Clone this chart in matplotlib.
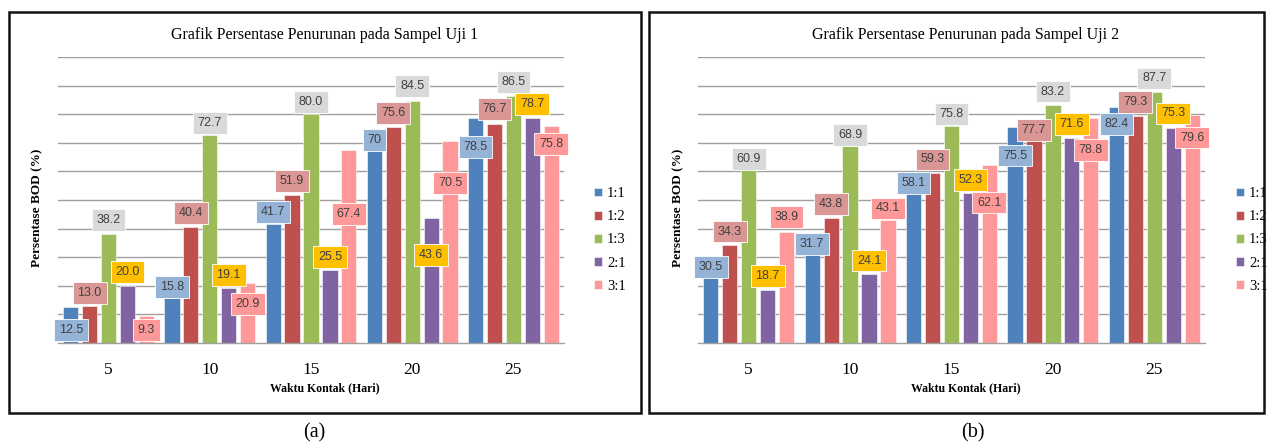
import numpy as np
import matplotlib.pyplot as plt
from matplotlib.patches import Rectangle

# data
days = ['5', '10', '15', '20', '25']
series = ['1:1', '1:2', '1:3', '2:1', '3:1']

uji1 = {
    '1:1': [12.5, 15.8, 41.7, 70.0, 78.5],
    '1:2': [13.0, 40.4, 51.9, 75.6, 76.7],
    '1:3': [38.2, 72.7, 80.0, 84.5, 86.5],
    '2:1': [20.0, 19.1, 25.5, 43.6, 78.7],
    '3:1': [9.3, 20.9, 67.4, 70.5, 75.8],
}
uji2 = {
    '1:1': [30.5, 31.7, 58.1, 75.5, 82.4],
    '1:2': [34.3, 43.8, 59.3, 77.7, 79.3],
    '1:3': [60.9, 68.9, 75.8, 83.2, 87.7],
    '2:1': [18.7, 24.1, 52.3, 71.6, 75.3],
    '3:1': [38.9, 43.1, 62.1, 78.8, 79.6],
}
label1 = ['12.5', '15.8', '41.7', '70', '78.5']  # 1:1 labels in chart 1

# label placement (offset of label centre from bar top, in %)
off1 = {
    '1:1': [-8.0, 3.8, 4.1, 1.0, -10.0],
    '1:2': [4.5, 5.1, 4.7, 4.8, 5.1],
    '1:3': [4.8, 4.2, 4.3, 5.4, 4.8],
    '2:1': [4.8, 4.7, 4.6, -12.8, 4.9],
    '3:1': [-4.8, -7.3, -22.3, -14.6, -6.2],
}
off2 = {
    '1:1': [-3.9, 2.9, -2.1, -10.0, -5.8],
    '1:2': [4.6, 4.8, 4.9, -3.2, 4.9],
    '1:3': [3.4, 3.8, 4.3, 4.7, 4.8],
    '2:1': [4.7, 4.7, 4.7, 5.0, 5.0],
    '3:1': [5.1, 4.0, -13.0, -11.3, -7.8],
}

bar_colors = ['#4F81BD', '#C0504D', '#9BBB59', '#8064A2', '#FF9999']
box_colors = ['#95B3D7', '#DA9694', '#D9D9D9', '#FFC000', '#FF9999']

W, H = 1268, 445
fig = plt.figure(figsize=(W / 100, H / 100), dpi=100)
serif = 'Liberation Serif'


def px(x0, y0, x1, y1):
    return [x0 / W, 1 - y1 / H, (x1 - x0) / W, (y1 - y0) / H]


def draw(rect, data, offs, title, title_x, ylab_x, leg_x, labels_11=None):
    ax = fig.add_axes(px(*rect))
    x = np.arange(len(days))
    pitch = 0.187
    width = 0.15
    for i, s in enumerate(series):
        xs = x + (i - 2) * pitch
        ax.bar(xs, data[s], width, color=bar_colors[i], label=s, zorder=2,
               edgecolor='white', linewidth=0.4)
    for i, s in enumerate(series):
        xs = x + (i - 2) * pitch
        for j, v in enumerate(data[s]):
            txt = f'{v:.1f}'
            if s == '1:1' and labels_11 is not None:
                txt = labels_11[j]
            ax.text(xs[j], v + offs[s][j], txt, ha='center', va='center',
                    fontsize=9, family='Liberation Sans', color='#404040',
                    zorder=5,
                    bbox=dict(boxstyle='square,pad=0.38', fc=box_colors[i],
                              ec='white', lw=0.6))
    ax.set_ylim(0, 100)
    ax.set_xlim(-0.5, len(days) - 0.5)
    ax.set_yticks(np.arange(10, 101, 10))
    ax.grid(axis='y', color='#A0A0A0', lw=1.0, zorder=0)
    ax.tick_params(left=False, labelleft=False, bottom=False)
    ax.set_xticks(x)
    ax.set_xticklabels(days, family=serif, fontsize=12.5)
    ax.tick_params(axis='x', pad=10)
    for sp in ['top', 'right', 'left']:
        ax.spines[sp].set_visible(False)
    ax.spines['bottom'].set_color('#A0A0A0')
    ax.spines['bottom'].set_linewidth(1.0)

    fig.text(title_x / W, 1 - 35 / H, title, ha='center', va='center',
             family=serif, fontsize=11.5)
    fig.text(ylab_x / W, 1 - 208 / H, 'Persentase BOD (%)', rotation=90,
             ha='center', va='center', family=serif, fontsize=9.5,
             fontweight='bold')
    fig.text(title_x / W, 1 - 388 / H, 'Waktu Kontak (Hari)', ha='center',
             va='center', family=serif, fontsize=8.5, fontweight='bold')
    ax.legend(loc='center left', bbox_to_anchor=(leg_x / W, 1 - 240 / H),
              bbox_transform=fig.transFigure, frameon=False,
              handlelength=0.55, handleheight=0.55, handletextpad=0.35,
              labelspacing=0.7, prop={'family': serif, 'size': 10.5},
              borderpad=0, borderaxespad=0)
    return ax


draw((58, 57, 564, 343), uji1, off1,
     'Grafik Persentase Penurunan pada Sampel Uji 1', 325, 37, 594, label1)
draw((698, 57, 1205, 343), uji2, off2,
     'Grafik Persentase Penurunan pada Sampel Uji 2', 966, 678, 1236)

# panel frames
for x0, x1 in [(9, 641), (649, 1264)]:
    fig.patches.append(Rectangle((x0 / W, 1 - 413 / H), (x1 - x0) / W,
                                 (413 - 12) / H, transform=fig.transFigure,
                                 fill=False, ec='#111111', lw=1.8))

fig.text(314 / W, 1 - 433 / H, '(a)', ha='center', va='center',
         family=serif, fontsize=14.5)
fig.text(973 / W, 1 - 433 / H, '(b)', ha='center', va='center',
         family=serif, fontsize=14.5)

plt.savefig('out.png', dpi=100)
